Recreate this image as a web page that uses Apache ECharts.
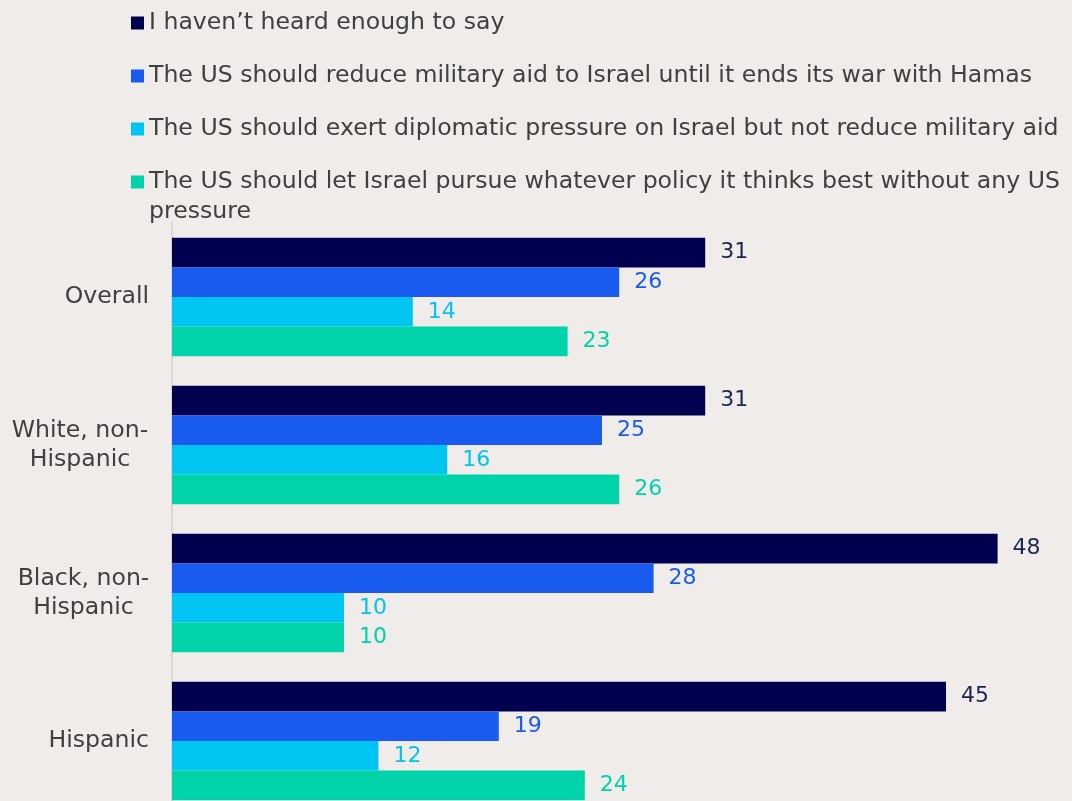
<!DOCTYPE html>
<html><head><meta charset="utf-8">
<script src="https://cdn.jsdelivr.net/npm/echarts@6/dist/echarts.min.js"></script>
<style>html,body{margin:0;padding:0;background:#EFECE9;overflow:hidden;}#c{width:1072px;height:815px;}</style>
</head><body><div id="c"></div>
<script>
const categories = ['Overall', 'White, non-\nHispanic', 'Black, non-\nHispanic', 'Hispanic'];
const seriesNames = [
  'I haven\u2019t heard enough to say',
  'The US should reduce military aid to Israel until it ends its war with Hamas',
  'The US should exert diplomatic pressure on Israel but not reduce military aid',
  'The US should let Israel pursue whatever policy it thinks best without any US pressure'
];
const legendFirstLines = [
  'I haven\u2019t heard enough to say',
  'The US should reduce military aid to Israel until it ends its war with Hamas',
  'The US should exert diplomatic pressure on Israel but not reduce military aid',
  'The US should let Israel pursue whatever policy it thinks best without any US'
];
const legendWrapLine = 'pressure';
const notHeard = [31, 31, 48, 45];
const reduceAid = [26, 25, 28, 19];
const diplomatic = [14, 16, 10, 12];
const letIsrael = [23, 26, 10, 24];

const barColors = ['#000050', '#195BEF', '#00C4F2', '#00D3AA'];
const labelColors = ['#1B2452', '#195BEF', '#00C4F2', '#00D3AA'];
const values = [notHeard, reduceAid, diplomatic, letIsrael];
const FONT = 'DejaVu Sans';
const FS = 23.6;

const chart = echarts.init(document.getElementById('c'));
chart.setOption({
  backgroundColor: '#EFECE9',
  animation: false,
  legend: [{
    orient: 'vertical',
    left: 131, top: 8, padding: 0,
    itemWidth: 13, itemHeight: 13, itemGap: 23,
    icon: 'rect',
    textStyle: { fontFamily: FONT, fontSize: FS, color: '#404040', lineHeight: 30 },
    formatter: function (n) { return legendFirstLines[seriesNames.indexOf(n)]; },
    data: seriesNames
  }, {
    orient: 'vertical',
    left: 144, top: 197, padding: 0,
    itemWidth: 0, itemHeight: 13, icon: 'none',
    textStyle: { fontFamily: FONT, fontSize: FS, color: '#404040', lineHeight: 30 },
    formatter: function () { return legendWrapLine; },
    data: [seriesNames[3]]
  }],
  grid: { left: 172, top: 223, width: 860, height: 592 },
  xAxis: { type: 'value', min: 0, max: 50, show: false },
  yAxis: {
    type: 'category', inverse: true, data: categories,
    axisTick: { show: false },
    axisLine: { lineStyle: { color: '#D9D6D3', width: 2 } },
    axisLabel: {
      margin: 23, fontFamily: FONT, fontSize: FS, color: '#404040', lineHeight: 29,
      formatter: function (v) {
        if (v.indexOf('\n') < 0) return v;
        const parts = v.split('\n');
        const st = v.indexOf('White') === 0 ? 'w' : 'b';
        return parts.map(p => '{' + st + '|' + p + '}').join('\n');
      },
      rich: {
        w: { width: 138, align: 'center', fontFamily: FONT, fontSize: FS, color: '#404040', lineHeight: 29 },
        b: { width: 131, align: 'center', fontFamily: FONT, fontSize: FS, color: '#404040', lineHeight: 29 }
      }
    }
  },
  series: seriesNames.map((n, i) => ({
    name: n, type: 'bar', data: values[i],
    barGap: 0, barCategoryGap: '20%',
    itemStyle: { color: barColors[i] },
    label: { show: true, position: 'right', distance: 15, fontFamily: FONT, fontSize: 22, color: labelColors[i] }
  }))
});
</script></body></html>
